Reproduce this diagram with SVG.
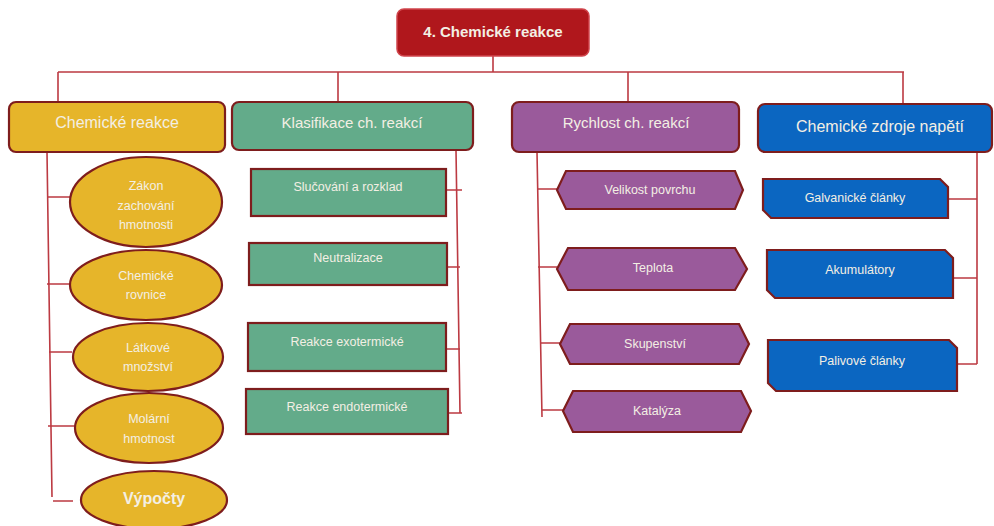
<svg xmlns="http://www.w3.org/2000/svg" width="994" height="526" viewBox="0 0 994 526">
<style>
text{font-family:"Liberation Sans",Arial,sans-serif;text-anchor:middle;fill:#F3EFE4}
.h{font-size:15px}
.c{font-size:12.5px}
.conn{stroke:#BC3A42;stroke-width:1.6;fill:none}
.gold{fill:#E6B52A;stroke:#7E1D1D;stroke-width:2.2}
.green{fill:#63AB8A;stroke:#7E1D1D;stroke-width:2.2}
.purple{fill:#9A5A9B;stroke:#7E1D1D;stroke-width:2.2}
.blue{fill:#0B66C1;stroke:#7E1D1D;stroke-width:2.2}
</style>
<rect width="994" height="526" fill="#FFFFFF"/>
<g id="connectors" class="conn">
<path d="M493 56V72M58 72H904M58 72V102M338 72V102M628 72V102M903 72V104"/>
<path d="M47 152L52 497M47 197H70M47 284H70M49 352H72M48 426H75M53 501H73"/>
<path d="M456 150L460 413M446 190H462M447 267H460M446 349H460M448 413H462"/>
<path d="M537 152L542 417M537 189H557M538 267H557M540 343H560M542 410H563"/>
<path d="M977 152V364M948 199H977M953 278H977M957 364H977"/>
</g>
<g id="top">
<rect x="397" y="9" width="192" height="47" rx="7" fill="#B0171C" stroke="#D0454C" stroke-width="1.5"/>
<text x="493" y="37" style="font-size:15px;font-weight:bold">4. Chemické reakce</text>
</g>
<g id="h1"><rect class="gold" x="9" y="102" width="216" height="50" rx="7"/><text class="h" x="117" y="128" style="font-size:16px">Chemické reakce</text></g>
<g id="h2"><rect class="green" x="232" y="102" width="241" height="48" rx="7"/><text class="h" x="352" y="128">Klasifikace ch. reakcí</text></g>
<g id="h3"><rect class="purple" x="512" y="102" width="227" height="50" rx="7"/><text class="h" x="626" y="128">Rychlost ch. reakcí</text></g>
<g id="h4"><rect class="blue" x="758" y="104" width="234" height="48" rx="7"/><text class="h" x="880" y="132" style="font-size:16px">Chemické zdroje napětí</text></g>
<g id="e1"><ellipse class="gold" cx="146" cy="202" rx="76" ry="45"/><text class="c" x="146" y="190">Zákon</text><text class="c" x="146" y="210">zachování</text><text class="c" x="146" y="229">hmotnosti</text></g>
<g id="e2"><ellipse class="gold" cx="146" cy="285" rx="76" ry="35"/><text class="c" x="146" y="280">Chemické</text><text class="c" x="146" y="299">rovnice</text></g>
<g id="e3"><ellipse class="gold" cx="148" cy="357" rx="75" ry="34"/><text class="c" x="148" y="352">Látkové</text><text class="c" x="148" y="371">množství</text></g>
<g id="e4"><ellipse class="gold" cx="149" cy="428" rx="74" ry="35"/><text class="c" x="149" y="423">Molární</text><text class="c" x="149" y="443">hmotnost</text></g>
<g id="e5"><ellipse class="gold" cx="154" cy="500" rx="73" ry="29"/><text x="154" y="504" style="font-size:16px;font-weight:bold">Výpočty</text></g>
<g id="k1"><rect class="green" x="251" y="169" width="195" height="47"/><text class="c" x="348" y="191">Slučování a rozklad</text></g>
<g id="k2"><rect class="green" x="249" y="243" width="198" height="42"/><text class="c" x="348" y="262">Neutralizace</text></g>
<g id="k3"><rect class="green" x="248" y="323" width="198" height="48"/><text class="c" x="347" y="346">Reakce exotermické</text></g>
<g id="k4"><rect class="green" x="246" y="389" width="202" height="45"/><text class="c" x="347" y="411">Reakce endotermické</text></g>
<g id="r1"><polygon class="purple" points="557,190 566,171 735,171 743,190 735,209 566,209"/><text class="c" x="650" y="194">Velikost povrchu</text></g>
<g id="r2"><polygon class="purple" points="557,269 568,248 735,248 747,269 735,290 568,290"/><text class="c" x="653" y="272">Teplota</text></g>
<g id="r3"><polygon class="purple" points="560,344 570,324 739,324 749,344 739,364 570,364"/><text class="c" x="655" y="348">Skupenství</text></g>
<g id="r4"><polygon class="purple" points="563,411 573,391 741,391 751,411 741,432 573,432"/><text class="c" x="657" y="415">Katalýza</text></g>
<g id="z1"><polygon class="blue" points="763,179 940,179 948,187 948,218 771,218 763,210"/><text class="c" x="855" y="202">Galvanické články</text></g>
<g id="z2"><polygon class="blue" points="767,250 945,250 953,258 953,298 775,298 767,290"/><text class="c" x="860" y="274">Akumulátory</text></g>
<g id="z3"><polygon class="blue" points="768,340 949,340 957,348 957,391 776,391 768,383"/><text class="c" x="862" y="365">Palivové články</text></g>
</svg>
